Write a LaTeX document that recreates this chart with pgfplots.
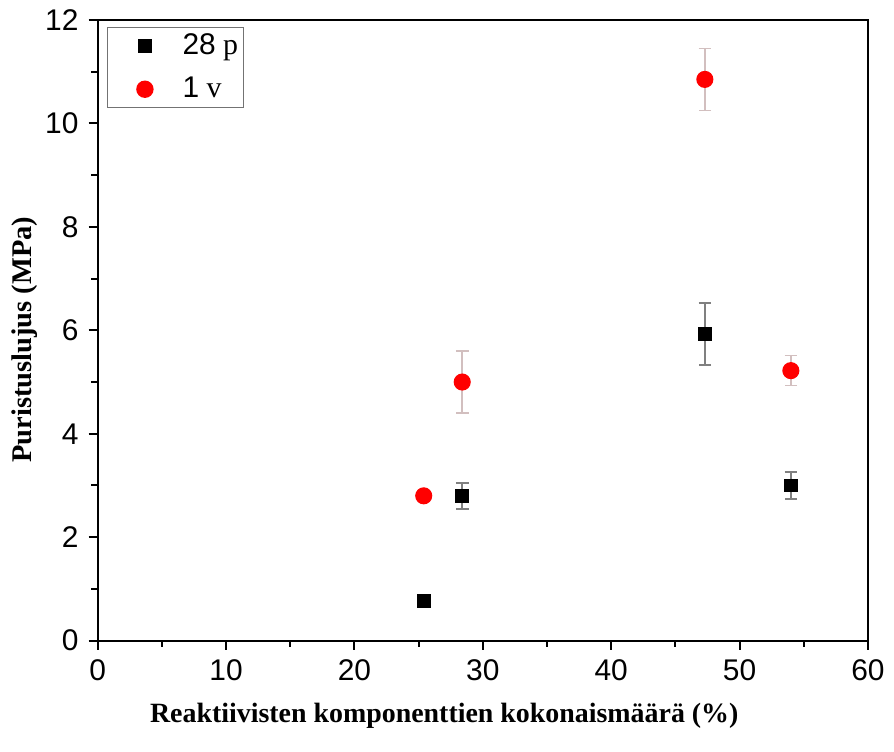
\documentclass[border=0pt]{standalone}
\usepackage{fontspec}
\setmainfont{Liberation Serif}
\newfontfamily\arial{Liberation Sans}
\usepackage{pgfplots}
\pgfplotsset{compat=1.18}

% 28 p
\pgfplotstableread{
x y e
25.4 0.77 0
28.4 2.80 0.25
47.3 5.93 0.60
54.0 3.00 0.26
}\pdays
% 1 v
\pgfplotstableread{
x y e
25.4 2.80 0
28.4 5.00 0.60
47.3 10.85 0.60
54.0 5.22 0.29
}\vyear

\begin{document}
\begin{tikzpicture}
\begin{axis}[
  name=ax,
  width=270.5pt, height=218pt, scale only axis,
  xmin=0, xmax=60, ymin=0, ymax=12,
  xtick={0,10,...,60}, ytick={0,2,...,12},
  minor x tick num=1, minor y tick num=1,
  tick align=outside, tick pos=left,
  major tick length=3.2pt, minor tick length=2.2pt,
  axis line style={line width=0.8pt},
  every tick/.style={black, line width=0.7pt},
  tick label style={font=\arial\fontsize{10.5}{12}\selectfont},
  /pgf/number format/assume math mode=true,
  xlabel={\bfseries Reaktiivisten komponenttien kokonaismäärä (\%)},
  ylabel={\bfseries Puristuslujus (MPa)},
  xlabel style={at={(axis description cs:0.45,-0.121)}, anchor=center, font=\fontsize{9.8}{12}\selectfont},
  ylabel style={at={(axis description cs:-0.095,0.485)}, anchor=center, font=\fontsize{10}{12}\selectfont},
  legend style={at={(axis description cs:0.012,0.989)}, anchor=north west,
    draw=black!55, line width=0.5pt, font=\fontsize{10.5}{12}\selectfont,
    row sep=2.5pt, column sep=8.4pt, inner xsep=10.3pt, inner ysep=0pt},
  legend cell align=left,
]
\addplot+[only marks, mark=square*, mark size=2.2pt, black, mark options={fill=black},
  error bars/.cd, y dir=both, y explicit, error mark=-,
  error bar style={black!50, line width=0.6pt},
  error mark options={rotate=90, black!50, mark size=2.2pt, line width=0.6pt}]
  table[x=x, y=y, y error=e] {\pdays};
\addlegendentry{{\arial 28} p\kern-10.5pt}
\addplot+[only marks, mark=*, mark size=2.8pt, red, mark options={fill=red, draw=red},
  error bars/.cd, y dir=both, y explicit, error mark=-,
  error bar style={red!30!black!25, line width=0.6pt},
  error mark options={rotate=90, red!30!black!25, mark size=2.2pt, line width=0.6pt}]
  table[x=x, y=y, y error=e] {\vyear};
\addlegendentry{{\arial 1} v\kern-10.5pt}
\end{axis}
\path ([shift={(-34.3pt,-38.85pt)}]ax.south west) rectangle ([shift={(8.05pt,7pt)}]ax.north east);
\end{tikzpicture}
\end{document}
